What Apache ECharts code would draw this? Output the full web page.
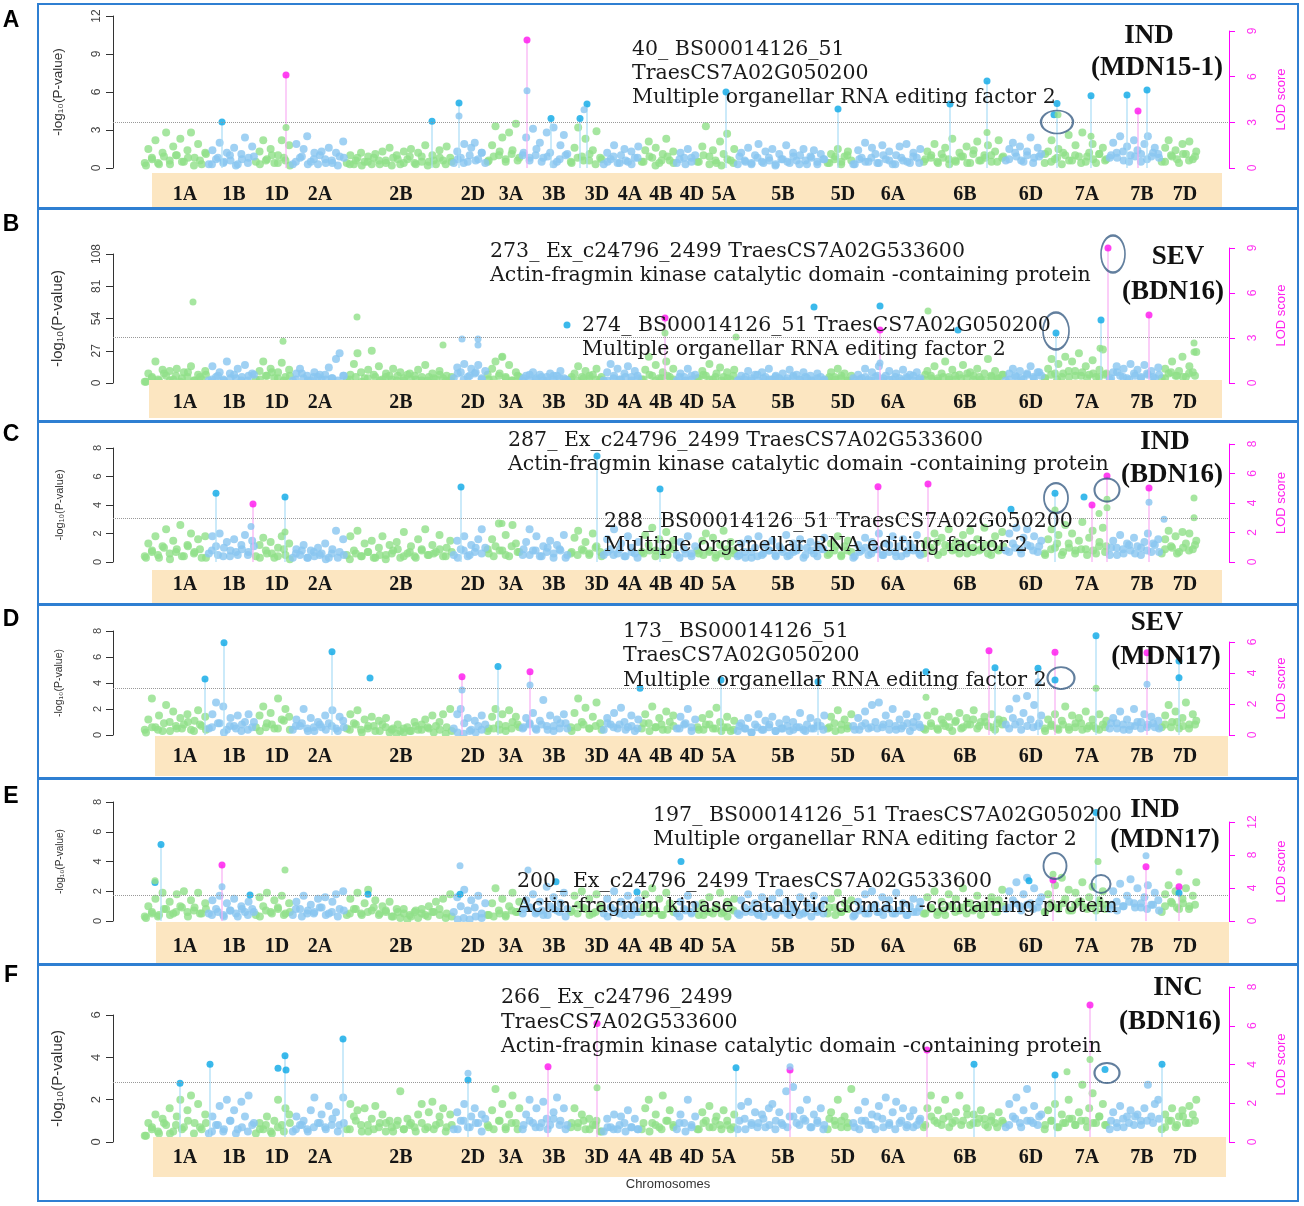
<!DOCTYPE html>
<html><head><meta charset="utf-8">
<script src="https://cdn.jsdelivr.net/npm/echarts@6/dist/echarts.min.js"></script>
<style>html,body{margin:0;padding:0;background:#fff}#c{width:1304px;height:1206px}</style>
</head><body><div id="c"></div>
<script>
// ---------- DATA ----------
const chromosomes = ['1A','1B','1D','2A','2B','2D','3A','3B','3D','4A','4B','4D','5A','5B','5D','6A','6B','6D','7A','7B','7D'];
const chromLengths = [64,47,37,54,107,35,34,48,33,38,35,22,39,90,27,69,82,39,65,52,38];
const chromLabelPos = [42,91,134,177,258,330,368,411,454,487,518,549,581,640,700,750,822,888,944,999,1042];
const panelLetters = ['A','B','C','D','E','F'];
const traitTitles = [['IND','(MDN15-1)'],['SEV','(BDN16)'],['IND','(BDN16)'],['SEV','(MDN17)'],['IND','(MDN17)'],['INC','(BDN16)']];
const yMax = [12,108,8,8,8,6];
const yInterval = [3,27,2,2,2,2];
const thresholds = [3.63,38,3.1,3.6,1.7,2.82];
const lodMax = [9,9,8,6,12,8];
const lodInterval = [3,3,2,2,4,2];

const notesA = ['40_ BS00014126_51','TraesCS7A02G050200','Multiple organellar RNA editing factor 2'];
const notesB = ['273_ Ex_c24796_2499 TraesCS7A02G533600','Actin-fragmin kinase catalytic domain -containing protein','274_ BS00014126_51 TraesCS7A02G050200','Multiple organellar RNA editing factor 2'];
const notesC = ['287_ Ex_c24796_2499 TraesCS7A02G533600','Actin-fragmin kinase catalytic domain -containing protein','288_ BS00014126_51 TraesCS7A02G050200','Multiple organellar RNA editing factor 2'];
const notesD = ['173_ BS00014126_51','TraesCS7A02G050200','Multiple organellar RNA editing factor 2'];
const notesE = ['197_ BS00014126_51 TraesCS7A02G050200','Multiple organellar RNA editing factor 2','200_ Ex_c24796_2499 TraesCS7A02G533600','Actin-fragmin kinase catalytic domain -containing protein'];
const notesF = ['266_ Ex_c24796_2499','TraesCS7A02G533600','Actin-fragmin kinase catalytic domain -containing protein'];

// background markers per chromosome (-log10 P)
const bgA = [
[0.4,1.5,0.8,2.2,0.3,1.2,2.8,0.6,1.7,1.0,2.3,0.5,1.4,2.8,0.8,1.9,0.3,1.2],
[0.3,1.4,0.7,2.0,0.4,1.2,0.6,1.6,0.3,1.1,2.4,0.8,1.7],
[0.5,1.3,2.2,0.7,1.5,0.4,1.0,2.2,0.6,1.8],
[0.3,1.9,0.8,1.5,2.5,0.5,1.2,0.3,1.3,0.7,1.6,0.4,1.2,0.9,2.1],
[0.4,1.0,0.3,0.8,1.2,0.5,0.9,0.3,1.1,0.6,1.3,0.4,1.6,0.8,1.0,0.3,1.3,0.7,1.5,0.4,1.2,0.9,1.8,0.5,1.0,0.3,1.4,0.6,1.7,0.8],
[0.4,1.3,0.8,1.9,0.5,1.6,2.0,0.7,1.2,0.4],
[0.6,1.8,3.3,1.0,2.4,0.5,2.8,1.4,3.5,0.8],
[1.0,2.4,0.6,3.1,1.5,2.0,0.8,2.8,1.2,3.2,0.5,1.8,2.6,1.1],
[0.5,1.6,3.2,0.9,2.3,0.6,1.4,2.9,0.8],
[0.3,1.2,0.7,1.8,0.4,1.0,1.5,0.5,1.3,0.8,1.7],
[0.5,1.4,2.1,0.8,1.6,0.4,1.1,2.3,0.6,1.3],
[0.4,1.2,0.8,1.5,0.5,1.0],
[0.5,1.7,3.3,0.9,1.4,0.4,2.1,1.1,2.7,0.6,1.5],
[0.3,1.2,0.6,1.6,0.4,1.0,1.9,0.5,1.3,0.8,1.5,0.3,1.1,0.7,1.8,0.4,1.2,0.6,1.0,1.5,0.3,0.9,1.4,0.5,1.1,0.7],
[0.4,1.1,0.7,1.5,0.3,0.9,1.3,0.6],
[0.3,1.4,0.8,2.0,0.5,1.6,1.1,0.4,1.8,0.7,1.3,0.3,1.0,1.7,0.6,1.9,0.4,1.2,0.8,1.5],
[0.5,1.3,0.8,1.9,0.4,1.1,1.6,0.7,2.3,0.5,1.2,0.9,1.7,0.4,1.4,2.1,0.6,1.0,1.8,0.5,1.3,2.2,0.8],
[0.6,1.5,2.0,0.9,1.7,0.5,1.3,2.4,0.8,1.6,1.1],
[0.4,1.3,2.2,0.7,1.5,0.3,1.0,2.6,0.6,1.8,0.9,2.8,0.5,1.2,1.9,0.4,1.1,1.6,0.7],
[0.8,2.0,1.2,2.5,0.6,1.7,1.0,2.2,1.4,0.5,1.9,2.5,0.9,1.6,1.1],
[0.5,1.6,2.2,0.9,1.4,0.4,1.9,1.1,2.1,0.7,1.3]];
const bgB = [
[1,8,4,18,2,11,6,10,3,12,1,9,5,14,2,7,3,10],
[2,14,5,9,3,18,4,7,12,2,15,6,8],
[3,10,18,6,12,4,9,17,5,11],
[2,8,12,4,6,2,9,5,3,7,13,4,20,25,6],
[3,7,16,25,9,4,11,27,5,14,3,8,6,12,2,9,4,7,3,6,11,2,15,5,8,3,10,4,6,2],
[4,13,9,16,5,12,8,15,3,10],
[3,12,18,6,22,4,15,2,9,5],
[2,6,3,9,4,7,2,5,8,3,6,10,4,2],
[3,8,14,5,10,4,7,12,3],
[2,9,16,6,12,3,8,14,5,10,4],
[3,11,22,6,15,4,9,18,5,12],
[2,8,5,12,3,7],
[4,10,6,16,3,8,13,5,9,3,11],
[2,6,3,10,4,7,2,9,5,12,3,6,4,8,2,11,5,7,3,9,4,6,2,8,5,3],
[3,9,5,12,4,8,2,6],
[2,7,4,12,3,9,5,14,2,6,10,3,8,4,11,5,7,2,9,4],
[3,10,6,14,4,8,18,5,11,3,7,15,4,9,6,12,3,8,20,5,10,4,7],
[2,8,12,5,10,3,7,14,4,9,6],
[4,12,20,8,16,5,22,10,18,6,25,9,14,7,19,5,11,28,8],
[3,9,14,6,12,4,16,8,11,5,15,7,10,4,13],
[4,12,8,18,6,10,22,5,14,9,26]];
const bgC = [
[0.4,1.3,0.7,1.8,0.3,1.1,2.3,0.6,1.5,0.9,2.6,0.4,1.2,2.0,0.7,1.6,0.3,1.8],
[0.6,1.8,1.1,2.0,0.4,1.4,0.8,1.6,0.5,1.2,1.9,0.7,1.5],
[0.4,1.2,1.7,0.6,1.4,0.3,1.0,1.8,0.5,1.3],
[0.3,0.9,0.5,1.2,0.3,0.8,0.4,1.0,0.6,1.3,0.3,0.9,2.2,0.7,1.6],
[0.5,1.8,0.8,2.2,0.4,1.3,0.7,1.5,0.3,1.0,1.8,0.5,1.2,0.8,1.4,0.3,2.1,0.6,1.1,0.4,1.6,0.9,2.3,0.5,1.2,0.7,1.9,0.4,1.0,1.5],
[0.5,1.5,0.9,1.8,0.4,1.2,0.7,1.6,2.3,1.0],
[0.6,1.6,1.1,2.7,0.8,1.9,0.4,2.6,1.3,0.7],
[0.5,1.4,2.3,0.8,1.8,0.4,1.1,0.7,1.5,0.3,1.2,0.8,1.9,0.5],
[0.6,1.7,2.2,0.9,1.4,0.5,2.0,1.1,0.7],
[0.5,1.6,0.9,2.3,0.6,1.3,0.4,1.8,1.0,0.6,1.4],
[0.7,1.9,1.2,2.4,0.8,1.6,0.5,2.1,1.0,1.5],
[0.5,1.4,0.9,1.8,0.6,1.1],
[0.6,1.5,2.0,0.8,1.7,0.5,1.2,2.2,0.9,1.4,0.6],
[0.4,1.3,0.7,1.6,0.3,1.0,1.8,0.5,1.2,0.8,1.5,0.4,1.1,0.7,1.9,0.5,1.3,0.8,1.6,0.3,1.0,1.4,0.6,1.2,0.9,1.7],
[0.5,1.3,0.8,1.8,0.4,1.1,1.5,0.7],
[0.4,1.2,0.8,1.7,0.5,1.4,0.9,2.0,0.5,1.3,0.7,1.8,0.4,1.1,1.6,0.6,1.3,0.8,1.9,0.5],
[0.6,1.5,1.0,2.0,0.5,1.7,1.2,2.3,0.8,1.4,0.6,1.9,1.1,2.2,0.7,1.6,0.9,2.4,0.6,1.3,1.8,0.8,2.1],
[0.8,2.0,1.3,2.4,0.9,1.7,2.3,1.1,1.8,0.7,1.5],
[0.6,1.6,2.3,1.0,1.9,0.5,2.6,1.3,2.0,0.8,1.5,2.8,0.9,1.7,2.2,0.6,1.4,2.4,1.1],
[0.5,1.5,1.0,1.9,0.6,1.3,0.8,1.7,1.1,0.5,1.4,2.0,0.7,1.2,1.6],
[0.6,1.6,2.2,1.0,1.8,0.7,2.1,1.3,2.0,0.9,1.5]];
const bgD = [
[0.4,1.2,2.8,0.6,1.5,0.3,2.3,1.0,1.8,0.5,1.3,0.8,1.6,0.4,1.1,1.9,0.7,1.4],
[0.5,1.6,2.5,0.9,2.2,0.4,1.3,0.7,1.5,0.3,1.0,1.6,0.6],
[0.6,1.5,2.2,0.9,1.7,0.5,2.8,1.2,2.0,1.4],
[0.4,1.2,0.7,2.0,0.5,1.3,0.3,1.0,0.6,1.5,0.9,1.9,0.5,1.4,1.1],
[0.5,1.6,0.9,1.9,0.4,1.2,0.7,1.4,0.3,1.1,0.8,1.3,0.2,0.5,0.1,0.3,0.2,0.6,0.3,1.0,0.4,0.8,1.2,0.5,1.5,0.7,1.0,1.6,0.6,2.0],
[0.5,1.6,2.0,0.9,1.3,0.4,1.1,0.7,1.5,0.8],
[0.5,1.4,2.0,0.8,1.6,0.3,1.9,1.0,1.4,0.6],
[0.5,1.3,0.8,1.7,0.4,1.1,2.7,0.7,1.5,0.3,1.2,0.9,1.6,0.5],
[0.6,1.7,2.8,1.0,2.1,0.5,1.4,2.5,0.9],
[0.4,1.3,0.8,1.7,0.5,2.1,1.0,0.6,1.5,0.3,1.2],
[0.5,1.6,0.9,2.2,0.6,1.3,0.4,1.8,1.0,1.5],
[0.5,1.4,0.8,2.0,0.6,1.2],
[0.4,1.3,0.8,1.6,0.5,2.1,1.0,0.6,1.4,0.3,1.1],
[0.3,0.9,0.5,1.3,0.2,0.8,1.6,0.4,1.1,0.6,1.4,0.3,0.9,0.5,1.2,0.3,1.0,0.6,1.7,0.4,0.8,1.3,0.5,1.0,0.7,1.5],
[0.5,1.4,0.9,1.9,0.4,1.2,0.7,1.6],
[0.4,1.3,0.7,1.8,0.5,2.3,1.0,2.5,0.6,1.5,0.9,2.0,0.4,1.2,0.7,1.6,0.3,1.0,1.4,0.6],
[0.5,1.5,0.9,1.8,0.4,1.2,0.7,1.4,0.3,1.1,1.7,0.6,1.3,0.8,1.9,0.5,1.0,1.4,0.7,1.6,0.4,1.2,0.8],
[0.8,2.0,1.3,2.8,1.0,1.7,3.0,1.2,2.3,0.7,1.5],
[0.5,1.2,0.8,1.6,0.4,1.1,2.2,0.6,1.5,0.9,1.3,0.4,1.8,0.7,1.2,0.5,1.6,0.8,1.1],
[0.5,1.3,0.9,1.8,0.4,1.2,0.7,2.0,1.0,0.5,1.6,0.8,1.4,0.6,1.1],
[0.6,1.5,2.3,1.0,1.8,0.5,1.3,2.5,0.8,1.6,1.1]];
const bgE = [
[0.3,1.0,0.6,1.5,0.4,1.9,0.8,1.3,0.5,1.8,1.0,2.0,0.6,1.4,0.9,1.9,0.5,1.2],
[0.5,1.4,0.8,1.7,0.4,1.2,0.7,1.5,0.3,1.0,0.6,1.3,0.8],
[0.4,1.6,1.0,1.9,0.6,1.4,0.8,1.7,0.5,1.2],
[0.4,1.3,0.8,1.7,0.5,1.1,0.6,1.5,0.9,1.6,0.5,1.3,1.8,0.8,2.0],
[0.4,1.5,0.8,1.9,0.5,1.2,2.1,0.7,1.4,0.4,1.0,0.6,1.3,0.3,0.8,0.2,0.5,0.1,0.3,0.6,0.2,0.8,0.4,1.0,0.6,1.3,0.8,1.5,0.5,1.8],
[0.6,1.6,1.0,2.1,0.7,1.4,0.9,1.7,0.5,1.2],
[0.4,1.2,2.2,0.7,1.5,0.3,1.0,1.9,0.6,1.3],
[0.5,1.4,0.9,1.8,0.6,1.3,0.4,2.3,1.0,1.6,0.7,1.2,1.9,0.8],
[0.6,1.7,1.1,2.0,0.8,1.5,0.5,1.8,1.0],
[0.5,1.5,0.9,2.0,0.6,1.3,0.4,1.7,1.0,0.7,1.4],
[0.6,1.8,1.1,2.2,0.7,1.5,0.4,1.9,1.2,0.8],
[0.5,1.3,0.8,1.7,0.6,1.1],
[0.4,1.2,0.7,1.6,0.5,1.0,1.9,0.6,1.3,0.8,1.5],
[0.5,1.4,0.9,1.8,0.6,1.2,0.4,1.6,1.0,0.7,1.5,0.5,1.9,0.8,1.3,0.4,1.1,0.7,1.6,0.5,1.2,0.9,1.7,0.6,1.0,1.4],
[0.5,1.5,0.9,1.9,0.6,1.2,0.8,1.4],
[0.4,1.3,0.8,1.8,0.5,2.0,1.1,0.6,1.6,0.9,1.4,0.5,1.9,0.7,1.2,0.4,1.0,1.5,0.6,1.3],
[0.5,1.6,0.9,2.0,0.6,1.3,0.4,1.8,1.0,1.5,0.7,2.2,0.5,1.2,0.8,1.7,0.4,1.1,0.9,1.6,0.6,1.4,2.1],
[0.8,2.0,1.4,2.6,1.0,1.8,2.9,1.2,2.2,0.9,1.6],
[0.6,1.8,1.2,2.4,0.8,2.9,1.5,2.1,0.7,1.9,1.3,2.6,0.9,1.6,2.3,0.7,1.4,2.0,1.1],
[0.8,2.0,1.3,2.5,1.0,1.7,2.8,1.2,2.2,0.9,1.6,2.4,1.1,1.9,1.4],
[0.6,1.8,2.4,1.2,2.0,0.8,1.5,2.2,1.0,1.7,2.6]];
const bgF = [
[0.3,0.9,0.6,1.3,0.4,1.1,0.8,1.6,0.5,1.2,2.0,0.7,1.5,2.2,0.9,1.8,0.6,1.3],
[0.4,1.2,0.8,1.7,0.5,2.0,1.0,1.5,0.6,1.9,1.2,2.2,0.8],
[0.4,0.9,0.6,1.2,0.5,1.0,2.0,0.8,1.6,1.3],
[0.5,1.2,0.8,1.0,0.6,1.5,2.1,0.9,1.3,0.7,1.7,1.1,1.4,0.8,2.1],
[0.6,1.8,1.2,1.5,0.8,1.6,0.5,1.1,1.7,0.7,1.3,0.9,1.0,0.5,0.8,2.4,0.6,1.1,0.9,0.7,1.3,1.8,0.6,1.4,1.9,0.8,1.2,1.6,0.7,1.3],
[0.6,1.4,1.0,1.8,0.7,1.2,1.6,0.9,1.3,1.1],
[0.7,1.5,2.5,1.0,1.8,0.6,1.3,2.2,0.9,1.6],
[0.6,1.3,2.0,0.9,1.6,0.7,1.9,1.1,0.8,1.4,2.1,1.0,1.6,0.8],
[0.7,1.6,0.9,1.3,0.6,1.1,0.8,1.0,0.5],
[0.5,1.1,0.7,1.3,0.6,1.2,0.9,1.5,0.7,1.1,0.6],
[0.6,1.6,2.0,0.9,1.3,0.7,2.2,1.0,1.5,0.8],
[0.6,1.3,0.9,2.0,0.7,1.2],
[0.6,1.4,1.0,1.7,0.7,1.2,0.8,1.5,1.0,0.6,1.3],
[0.6,1.7,1.1,1.9,0.8,1.4,0.9,1.3,0.7,1.6,1.8,1.0,1.4,0.8,2.4,1.2,2.6,0.9,1.5,1.1,2.0,0.7,1.3,1.0,1.6,0.8],
[0.6,1.4,1.0,2.0,0.7,1.2,0.9,2.5],
[0.7,1.5,1.0,1.9,0.8,1.3,0.6,1.7,1.1,2.1,0.8,1.4,1.9,0.9,1.6,0.7,1.2,1.5,0.8,1.1],
[0.7,1.6,2.2,1.0,1.5,0.8,2.0,1.2,0.9,1.4,2.2,1.0,1.6,0.8,1.3,0.9,1.5,1.1,0.7,1.2,0.9,1.4,1.0],
[0.7,1.8,1.2,2.1,0.9,1.5,2.5,1.0,1.7,0.8,1.3],
[0.6,1.5,1.0,1.8,0.7,1.3,0.9,2.0,1.1,0.8,1.4,2.7,1.0,1.6,2.3,0.9,1.2,1.8,0.8],
[0.6,1.4,0.9,1.7,0.7,1.2,1.5,0.8,1.3,1.0,1.6,2.7,1.2,1.8,2.0],
[0.6,1.3,1.0,1.6,0.7,1.2,1.5,0.9,1.7,1.3,2.0]];

// dense low-lying markers along the whole genome (176 per panel)
const lowA = [0.2,0.7,0.4,0.9,0.3,1.0,0.5,0.8,0.2,0.6,1.1,0.3,0.8,0.5,1.0,0.2,
0.7,0.4,0.9,0.3,0.6,1.0,0.4,0.8,0.2,0.5,0.9,0.3,0.7,1.0,0.4,0.6,
0.2,0.8,0.3,0.6,0.2,0.5,0.8,0.3,0.6,0.2,0.7,0.4,0.9,0.3,0.5,0.2,
0.6,0.8,0.3,0.5,0.7,0.4,1.0,0.6,1.2,0.5,0.9,1.3,0.7,1.1,0.6,1.2,
0.8,1.0,0.5,0.9,0.3,0.7,1.0,0.4,0.8,0.6,1.1,0.3,0.7,0.5,0.9,0.4,
0.6,0.3,0.8,0.5,0.9,0.2,0.6,0.9,0.4,0.7,0.3,0.8,0.5,1.0,0.3,0.6,
0.2,0.7,0.4,0.9,0.5,0.3,0.8,0.4,0.6,0.2,0.7,0.5,0.9,0.3,0.6,0.8,
0.3,0.7,0.4,0.9,0.5,1.0,0.3,0.7,0.5,0.8,0.4,1.0,0.6,0.3,0.8,0.5,
0.9,0.4,0.7,1.0,0.5,0.8,0.3,0.6,0.9,0.4,1.1,0.6,0.8,1.0,0.5,0.9,
0.7,1.2,0.6,1.0,0.4,0.9,1.1,0.5,0.8,1.2,0.6,1.0,0.4,0.9,0.7,1.1,
0.6,1.0,0.8,1.3,0.5,0.9,1.1,0.7,1.2,0.8,0.5,1.0,0.7,1.1,0.6,0.9];
const lowB = [1,5,3,8,2,6,4,9,2,5,7,3,6,2,8,4,
5,2,7,3,6,9,4,2,6,3,8,2,5,7,3,4,
2,6,3,5,1,4,7,2,5,3,6,2,8,3,5,2,
4,7,2,5,8,3,6,9,4,7,3,8,5,2,6,4,
7,3,5,2,6,4,3,5,2,4,6,3,5,2,4,3,
5,2,6,3,7,2,4,6,3,5,2,6,4,7,3,5,
2,4,6,3,5,2,7,4,3,5,2,4,6,3,5,2,
4,2,5,3,6,2,4,3,5,2,6,4,3,5,2,4,
6,3,7,4,2,5,3,6,4,8,3,5,2,6,4,7,
3,6,4,8,5,9,4,7,3,8,5,10,6,4,8,5,
7,4,9,5,3,6,4,8,5,7,4,9,6,5,8,6];
const lowC = [0.3,0.8,0.5,1.0,0.2,0.7,0.4,1.1,0.6,0.9,0.3,0.8,0.5,1.0,0.4,0.7,
0.9,0.5,1.1,0.3,0.8,0.6,0.4,0.9,0.2,0.6,0.8,0.3,0.7,0.5,0.2,0.6,
0.3,0.5,0.2,0.6,0.4,0.7,0.3,0.5,0.2,0.6,0.9,0.4,0.7,0.3,0.8,0.5,
0.6,0.9,0.4,0.7,0.3,0.8,0.5,1.0,0.6,0.9,0.4,0.8,0.5,1.1,0.7,0.9,
0.5,0.8,0.4,1.0,0.6,0.9,0.3,0.7,0.5,0.8,0.6,1.0,0.4,0.7,0.5,0.9,
0.4,0.7,0.3,0.6,0.8,0.4,0.7,0.5,0.9,0.3,0.6,0.4,0.8,0.5,0.7,0.3,
0.6,0.4,0.8,0.5,0.3,0.7,0.4,0.6,0.8,0.5,0.9,0.4,0.7,1.0,0.5,0.8,
0.4,0.9,0.6,1.1,0.5,0.8,0.3,0.7,1.0,0.6,0.9,0.5,1.2,0.7,0.4,0.8,
1.0,0.6,1.2,0.8,1.4,0.7,1.1,0.9,1.3,0.6,1.0,0.8,1.2,0.5,0.9,1.1,
0.7,1.0,0.6,1.2,0.8,1.1,0.5,0.9,1.3,0.7,1.0,0.6,0.9,0.5,0.8,1.1,
0.7,1.0,0.5,0.9,1.2,0.6,1.0,0.8,1.3,0.7,0.9,1.1,0.6,1.0,0.8,1.2];
const lowD = [0.2,0.6,0.4,0.9,0.3,0.7,0.5,1.0,0.3,0.8,0.4,0.6,0.9,0.2,0.7,0.5,
0.8,0.4,1.0,0.3,0.6,0.8,0.5,1.1,0.4,0.7,0.9,0.3,0.6,0.8,0.4,0.7,
0.3,0.6,0.4,0.8,0.2,0.5,0.7,0.3,0.6,0.4,0.8,0.5,0.3,0.7,0.4,0.6,
0.2,0.4,0.1,0.3,0.2,0.1,0.3,0.2,0.4,0.3,0.5,0.4,0.7,0.5,0.8,0.6,
0.9,0.5,0.8,0.4,0.7,0.5,0.9,0.3,0.6,0.8,0.5,0.7,0.4,0.9,0.6,0.8,
0.4,0.7,0.5,0.9,0.3,0.6,0.8,0.4,0.7,0.5,0.9,0.3,0.6,0.4,0.8,0.5,
0.3,0.6,0.4,0.7,0.5,0.2,0.6,0.4,0.8,0.3,0.5,0.7,0.4,0.6,0.3,0.5,
0.7,0.4,0.6,0.3,0.8,0.5,0.7,0.4,0.9,0.6,0.5,0.8,0.4,0.7,0.5,0.9,
0.6,0.8,0.4,0.7,0.5,0.9,0.6,1.0,0.5,0.8,1.2,0.7,1.0,0.6,0.9,1.1,
0.5,0.8,0.4,0.7,0.6,0.9,0.3,0.7,0.5,0.8,0.4,0.6,0.9,0.5,0.7,0.4,
0.6,0.9,0.5,0.8,0.4,0.7,1.0,0.6,0.9,0.5,0.8,0.6,1.0,0.7,0.5,0.8];
const lowE = [0.2,0.5,0.3,0.8,0.4,0.6,0.9,0.3,0.7,0.5,0.8,0.4,0.6,0.3,0.7,0.5,
0.8,0.4,0.6,0.3,0.7,0.5,0.9,0.4,0.6,0.8,0.3,0.7,0.5,0.9,0.4,0.6,
0.3,0.7,0.5,0.8,0.4,0.6,0.9,0.5,0.7,0.3,0.6,0.8,0.4,0.7,0.5,0.3,
0.6,0.4,0.2,0.3,0.1,0.2,0.1,0.3,0.2,0.4,0.3,0.5,0.4,0.7,0.6,0.8,
0.9,0.5,0.7,0.4,0.8,0.6,0.3,0.7,0.5,0.9,0.4,0.6,0.8,0.3,0.7,0.5,
0.8,0.4,0.6,0.9,0.5,0.7,0.4,0.8,0.6,0.3,0.7,0.5,0.9,0.4,0.6,0.8,
0.5,0.3,0.7,0.4,0.6,0.8,0.5,0.3,0.6,0.4,0.7,0.5,0.8,0.4,0.6,0.3,
0.7,0.5,0.9,0.4,0.6,0.8,0.3,0.7,0.5,0.9,0.6,0.4,0.8,0.5,0.7,0.4,
0.6,0.9,0.5,0.8,0.4,0.7,1.0,0.6,0.9,1.2,0.7,1.0,0.8,1.3,0.6,1.0,
0.9,1.2,0.7,1.1,0.8,1.3,0.6,1.0,0.9,1.2,0.7,1.1,1.3,0.8,1.0,1.2,
0.8,1.1,0.7,1.0,1.3,0.9,1.2,0.8,1.1,0.7,1.0,1.3,0.9,1.2,0.8,1.1];
const lowF = [0.3,0.7,0.5,0.9,0.4,0.8,0.6,1.0,0.4,0.7,0.9,0.5,0.8,0.6,1.0,0.4,
0.7,0.5,0.9,0.6,0.8,0.4,0.7,0.5,0.9,0.6,0.8,0.5,0.7,0.9,0.6,0.8,
0.5,0.9,0.6,1.0,0.5,0.8,0.6,0.9,0.5,0.7,1.0,0.6,0.8,0.5,0.9,0.7,
0.6,0.9,0.5,0.8,0.6,1.0,0.7,0.9,0.5,0.8,0.6,1.0,0.7,0.9,0.6,0.8,
1.0,0.7,0.9,0.6,1.1,0.8,0.6,0.9,0.7,1.0,0.6,0.8,0.5,0.7,0.6,0.8,
0.5,0.7,0.6,0.9,0.5,0.8,0.6,1.0,0.7,0.9,0.5,0.8,0.6,0.9,0.7,1.0,
0.6,0.8,0.7,1.0,0.6,0.9,0.7,1.1,0.8,0.6,0.9,0.7,1.2,0.8,1.0,0.7,
0.9,0.6,1.1,0.8,1.0,0.7,0.9,0.6,1.0,0.8,1.2,0.7,0.9,0.6,1.0,0.8,
0.7,1.0,0.8,1.2,0.9,1.1,0.7,1.0,0.8,1.3,0.9,1.1,0.8,1.0,0.7,0.9,
0.8,1.1,0.7,1.0,0.9,1.2,0.8,1.0,0.7,0.9,1.1,0.8,1.0,0.7,0.9,1.2,
0.8,1.0,0.7,1.1,0.9,1.2,0.8,1.0,0.9,1.1,0.7,1.0,0.8,1.2,0.9,1.0];

// highlighted markers [position, value, kind]  B/M = with stem, b/m = no stem, g/l = plain
const peaksA = [[79,3.63,'B'],[143,7.34,'M'],[143,3.2,'g'],[289,3.7,'B'],[316,5.13,'B'],[316,4.1,'l'],[384,10.1,'M'],[384,6.1,'l'],[408,3.9,'B'],[437,3.9,'B'],[444,5.05,'B'],[441,4.6,'l'],[583,6.0,'B'],[695,4.66,'B'],[807,5.05,'B'],[844,6.87,'B'],[844,2.8,'g'],[914,5.1,'B'],[911,4.2,'b'],[915,4.2,'g'],[948,5.7,'B'],[948,2.5,'g'],[984,5.76,'B'],[1004,6.15,'B'],[995,4.5,'M']];
const peaksB = [[50,67.8,'g'],[140,35,'g'],[214,55.2,'g'],[300,31.8,'g'],[319,36.8,'l'],[335,36.8,'l'],[335,31.8,'l'],[359,21.8,'g'],[424,48.5,'b'],[522,54.4,'M'],[522,41.9,'g'],[593,38.5,'g'],[671,63.6,'b'],[737,64.4,'b'],[737,44.4,'M'],[737,16.7,'l'],[785,60.3,'g'],[815,44.4,'b'],[913,41.9,'B'],[958,52.7,'B'],[965,113,'M'],[1006,56.9,'M'],[1051,33.5,'g'],[1051,26,'g'],[957,29,'g']];
const peaksC = [[73,4.82,'B'],[110,4.07,'M'],[108,2.5,'l'],[142,4.56,'B'],[142,2.1,'g'],[318,5.26,'B'],[454,7.44,'B'],[359,2.7,'g'],[517,5.12,'B'],[735,5.28,'M'],[785,5.47,'M'],[868,3.7,'b'],[912,4.82,'B'],[941,4.56,'b'],[949,4.0,'M'],[964,6.03,'M'],[964,4.4,'g'],[964,3.8,'g'],[1006,5.19,'M'],[1006,4.2,'l'],[1021,3.0,'l'],[1051,4.5,'g'],[1051,3.1,'g'],[912,3.65,'g'],[956,3.4,'g']];
const peaksD = [[62,4.3,'B'],[81,7.1,'B'],[189,6.4,'B'],[227,4.38,'b'],[319,4.49,'M'],[319,3.46,'l'],[355,5.26,'B'],[387,4.87,'M'],[387,3.85,'l'],[497,3.6,'b'],[578,4.23,'B'],[675,4.1,'B'],[783,4.87,'b'],[783,2.9,'g'],[846,6.49,'M'],[852,5.18,'B'],[895,5.13,'B'],[895,4.1,'l'],[912,6.36,'M'],[912,4.23,'b'],[953,7.64,'B'],[953,3.6,'g'],[1004,6.33,'M'],[1004,3.9,'l'],[1036,5.69,'B'],[1036,4.41,'b']];
const peaksE = [[18,5.15,'B'],[12,2.58,'b'],[12,2.7,'g'],[79,3.76,'M'],[79,2.3,'l'],[107,1.75,'b'],[142,3.43,'g'],[225,1.8,'b'],[317,3.72,'l'],[317,1.8,'b'],[385,3.43,'l'],[413,2.64,'b'],[494,1.95,'b'],[538,4.0,'b'],[886,2.7,'b'],[910,2.76,'M'],[910,3.15,'g'],[953,7.3,'B'],[955,4.0,'g'],[1003,4.39,'l'],[1003,3.65,'M'],[1036,2.3,'M'],[1036,1.88,'b'],[1036,3.3,'g']];
const peaksF = [[37,2.77,'B'],[67,3.67,'B'],[142,4.08,'B'],[135,3.48,'b'],[143,3.4,'b'],[200,4.87,'B'],[325,2.93,'B'],[325,3.25,'l'],[405,3.56,'M'],[454,5.6,'M'],[454,2.56,'g'],[593,3.51,'B'],[647,3.4,'M'],[647,3.56,'l'],[784,4.35,'M'],[831,3.67,'B'],[912,3.17,'B'],[924,3.32,'g'],[947,6.47,'M'],[947,3.9,'g'],[962,3.43,'b'],[1019,3.67,'B']];

// circled loci [position, value]
const circlesA = [[914,3.63]];
const circlesB = [[970,108],[913,43.5]];
const circlesC = [[913,4.49],[964,5.05]];
const circlesD = [[918,4.38]];
const circlesE = [[912,3.7],[958,2.49]];
const circlesF = [[964,3.26]];

// ---------- LAYOUT (pixels / styles) ----------
const L = [
 {box:[4,208],top:16,zero:168,lodTop:31,band:[152,173,1222,207],lm:27,letterY:21,ns:13.5,tk:12,circ:[[32,23]],titles:[[1149,36],[1157,68]],notes:[[632,50],[632,74],[632,98]]},
 {box:[209,421],top:254,zero:383,lodTop:248,band:[149,380,1222,418],lm:20,letterY:225,ns:15,tk:12,circ:[[24,37],[26,37]],titles:[[1178,257],[1173,292]],notes:[[490,252],[490,276],[582,326],[582,350]]},
 {box:[422,604],top:448,zero:562,lodTop:444,band:[152,570,1222,603],lm:23,letterY:435,ns:11,tk:11,circ:[[24,30],[25,23]],titles:[[1165,442],[1172,475]],notes:[[508,441],[508,465],[604,522],[604,546]]},
 {box:[605,778],top:631,zero:735,lodTop:642,band:[155,736,1228,776],lm:22,letterY:620,ns:10.5,tk:11,circ:[[27,22]],titles:[[1157,623],[1166,657]],notes:[[623,632],[623,656],[623,681]]},
 {box:[779,964],top:802,zero:921,lodTop:822,band:[156,922,1229,963],lm:26,letterY:797,ns:10,tk:11,circ:[[23,26],[19,18]],titles:[[1155,810],[1165,840]],notes:[[653,816],[653,840],[517,882],[517,907]]},
 {box:[965,1201],top:1015,zero:1142,lodTop:987,band:[153,1137,1226,1177],lm:16,letterY:976,ns:15,tk:13,circ:[[25,20]],titles:[[1178,988],[1170,1022]],notes:[[501,998],[501,1023],[501,1047]]}
];
const panels = [
 {bg:bgA,low:lowA,peaks:peaksA,circles:circlesA,notes:notesA},
 {bg:bgB,low:lowB,peaks:peaksB,circles:circlesB,notes:notesB},
 {bg:bgC,low:lowC,peaks:peaksC,circles:circlesC,notes:notesC},
 {bg:bgD,low:lowD,peaks:peaksD,circles:circlesD,notes:notesD},
 {bg:bgE,low:lowE,peaks:peaksE,circles:circlesE,notes:notesE},
 {bg:bgF,low:lowF,peaks:peaksF,circles:circlesF,notes:notesF}
];
const COL = {green:'#90e088', lblue:'#88c5f0', blue:'#0aa8e6', mag:'#ff12ee', stemB:'#a8dcf6', stemM:'#f9aef4'};
const kindColor = {B:COL.blue,b:COL.blue,M:COL.mag,m:COL.mag,g:COL.green,l:COL.lblue};

const starts = []; let acc = 0; chromLengths.forEach(l => { starts.push(acc); acc += l; });
const genomeLen = acc;
function chromOf(x) { for (let c = chromLengths.length - 1; c >= 0; c--) if (x >= starts[c]) return c; return 0; }

const grids = [], xAxes = [], yAxes = [], series = [], graphics = [];
panels.forEach((p, i) => {
  const g = L[i];
  const gi = i * 2, gj = i * 2 + 1;
  grids.push({left:113, width:1116, top:g.top, height:g.zero - g.top});
  grids.push({left:1228, width:1, top:g.lodTop, height:g.zero - g.lodTop});
  xAxes.push({gridIndex:gi, type:'value', min:-30, max:1086, z:20,
    axisLine:{show:false, onZero:false}, axisTick:{show:false}, splitLine:{show:false},
    axisLabel:{customValues:chromLabelPos, formatter:v => { const k = chromLabelPos.indexOf(v); return k >= 0 ? chromosomes[k] : ''; },
      margin:g.lm, verticalAlign:'middle', fontFamily:'Liberation Serif', fontWeight:'bold', fontSize:20, color:'#151515'}});
  xAxes.push({gridIndex:gj, type:'value', min:0, max:1, show:false, axisLine:{onZero:false}});
  yAxes.push({gridIndex:gi, type:'value', min:0, max:yMax[i], interval:yInterval[i],
    axisLine:{show:true, onZero:false, lineStyle:{color:'#333', width:1}},
    axisTick:{show:true, length:7, lineStyle:{color:'#333'}},
    axisLabel:{rotate:90, margin:10, fontSize:g.tk, color:'#444', fontFamily:'Liberation Sans'},
    splitLine:{show:false},
    name:'-log\u2081\u2080(P-value)', nameLocation:'middle', nameRotate:90, nameGap:48,
    nameTextStyle:{fontSize:g.ns, color:'#333', fontFamily:'Liberation Sans, DejaVu Sans'}});
  yAxes.push({gridIndex:gj, type:'value', position:'right', min:0, max:lodMax[i], interval:lodInterval[i],
    axisLine:{show:true, onZero:false, lineStyle:{color:'#ff00ff', width:1}},
    axisTick:{show:true, length:6, lineStyle:{color:'#ff00ff'}},
    axisLabel:{rotate:90, margin:18, fontSize:12, color:'#ff33f0', fontFamily:'Liberation Sans'},
    splitLine:{show:false},
    name:'LOD score', nameLocation:'middle', nameRotate:90, nameGap:46,
    nameTextStyle:{fontSize:13, color:'#ff22ee', fontFamily:'Liberation Sans'}});

  const green = [], blue = [];
  p.low.forEach((v, k) => {
    const x = (k + 0.5) * genomeLen / p.low.length;
    (chromOf(x) % 2 === 0 ? green : blue).push([x, v]);
  });
  p.bg.forEach((vals, c) => {
    const n = vals.length, len = chromLengths[c];
    vals.forEach((v, k) => { (c % 2 === 0 ? green : blue).push([starts[c] + (k + 0.5) * len / n, v]); });
  });
  series.push({type:'scatter', xAxisIndex:gi, yAxisIndex:gi, data:green, symbolSize:8, z:2,
    itemStyle:{color:COL.green}, silent:true,
    markLine:{silent:true, symbol:'none', label:{show:false}, lineStyle:{type:'dotted', color:'#999', width:1},
      data:[{yAxis:thresholds[i]}]}});
  series.push({type:'scatter', xAxisIndex:gi, yAxisIndex:gi, data:blue, symbolSize:8, z:2, itemStyle:{color:COL.lblue}, silent:true});
  const stems = p.peaks.filter(d => d[2] === 'B' || d[2] === 'M').map(d => [d[0], d[1], d[2] === 'M' ? 1 : 0]);
  series.push({type:'custom', xAxisIndex:gi, yAxisIndex:gi, z:3, silent:true, data:stems,
    renderItem:(params, api) => {
      const a = api.coord([api.value(0), 0]), b = api.coord([api.value(0), api.value(1)]);
      return {type:'line', shape:{x1:a[0], y1:a[1], x2:b[0], y2:b[1]},
        style:{stroke: api.value(2) === 1 ? COL.stemM : COL.stemB, lineWidth:1.2}};
    }});
  series.push({type:'scatter', xAxisIndex:gi, yAxisIndex:gi, z:4, clip:false, silent:true, symbolSize:7,
    data:p.peaks.map(d => ({value:[d[0], d[1]], itemStyle:{color:kindColor[d[2]]}}))});
  series.push({type:'scatter', xAxisIndex:gi, yAxisIndex:gi, z:6, clip:false, silent:true, symbol:'circle',
    data:p.circles.map((d, k) => ({value:d, symbolSize:g.circ[k]})),
    itemStyle:{color:'rgba(0,0,0,0)', borderColor:'#3b5f86', borderWidth:2}});
  series.push({type:'scatter', xAxisIndex:gj, yAxisIndex:gj, data:[]});

  graphics.push({type:'rect', z:1, shape:{x:38, y:g.box[0], width:1260, height:g.box[1] - g.box[0]},
    style:{fill:'none', stroke:'#2f7fd2', lineWidth:2}});
  graphics.push({type:'rect', z:10, shape:{x:g.band[0], y:g.band[1], width:g.band[2] - g.band[0], height:g.band[3] - g.band[1]},
    style:{fill:'#fce6c1'}});
  graphics.push({type:'text', z:30, x:11, y:g.letterY, style:{text:panelLetters[i], font:'bold 23px Liberation Sans', fill:'#000', align:'center', verticalAlign:'middle'}});
  traitTitles[i].forEach((t, k) => graphics.push({type:'text', z:30, x:g.titles[k][0], y:g.titles[k][1],
    style:{text:t, font:'bold 27px Liberation Serif', fill:'#111', align:'center', verticalAlign:'middle'}}));
  p.notes.forEach((t, k) => graphics.push({type:'text', z:30, x:g.notes[k][0], y:g.notes[k][1],
    style:{text:t, font:'20.5px DejaVu Serif', fill:'#1a1a1a', align:'left', verticalAlign:'middle'}}));
});
graphics.push({type:'text', z:30, x:668, y:1184, style:{text:'Chromosomes', font:'13px Liberation Sans', fill:'#333', align:'center', verticalAlign:'middle'}});

const chart = echarts.init(document.getElementById('c'), null, {renderer:'canvas'});
chart.setOption({animation:false, backgroundColor:'#fff', grid:grids, xAxis:xAxes, yAxis:yAxes, series:series, graphic:graphics});
</script></body></html>
